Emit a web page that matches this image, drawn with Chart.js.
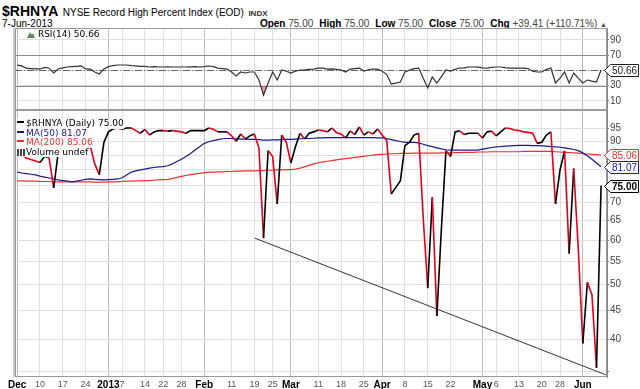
<!DOCTYPE html>
<html>
<head>
<meta charset="utf-8">
<script src="https://cdn.jsdelivr.net/npm/chart.js@4.4.1/dist/chart.umd.min.js"></script>
<style>
  body { margin: 0; background: #fff; }
  #wrap { position: relative; width: 640px; height: 389px; overflow: hidden; font-family: "Liberation Sans", Arial, sans-serif; }
  canvas { position: absolute; left: 0; }
  #rsiChart { top: 28px; }
  #priceChart { top: 110px; }
  .hdr { position: absolute; white-space: nowrap; color: #000; }
  .val { color: #444; }
  .lbl { font-weight: bold; margin-left: 6px; }
  .leg { position: absolute; left: 17px; top: 119px; font-family: "DejaVu Sans", sans-serif; font-size: 9px; line-height: 9.5px; }
  .leg div { display: table; background: rgba(255,255,255,0.92); white-space: nowrap; }
  .dash { display: inline-block; width: 7px; height: 2px; vertical-align: 3px; margin-right: 2px; }
  .bars { display: inline-block; width: 8px; height: 7px; margin-right: 1px; vertical-align: -1px;
          background: linear-gradient(90deg, #444 0 2px, transparent 2px 3px, #444 3px 5px, transparent 5px 6px, #444 6px 8px); }
  .rsilab { position: absolute; left: 27px; top: 29px; font-family: "DejaVu Sans", sans-serif; font-size: 9px; line-height: 10px; background: rgba(255,255,255,0.92); white-space: nowrap; }
</style>
</head>
<body>
<div id="wrap">
  <div class="hdr" style="left:2px; top:2px;"><span style="font-weight:bold; font-size:14px;">$RHNYA</span> <span style="font-size:10px;">NYSE Record High Percent Index (EOD)</span> <span style="font-size:8px; font-weight:bold; color:#333;">INDX</span></div>
  <div class="hdr" style="left:2px; top:17.5px; font-size:10px; line-height:12px;">7-Jun-2013</div>
  <div class="hdr" id="ohlc" style="right:33px; top:17.5px; font-size:10px; line-height:12px;"></div>
  <canvas id="rsiChart" width="640" height="82"></canvas>
  <canvas id="priceChart" width="640" height="279"></canvas>
  <div class="rsilab"><svg width="8" height="7" style="vertical-align:-1px"><polygon points="0,7 3,1 5,4 6,2 8,7" fill="#5a8a5a"/></svg> <span id="rsiTxt"></span></div>
  <div class="leg">
    <div><span class="dash" style="background:#000"></span><span id="lgClose"></span></div>
    <div style="color:#1a1a8c"><span class="dash" style="background:#1a1a8c"></span><span id="lgMa50"></span></div>
    <div style="color:#f03030"><span class="dash" style="background:#f03030"></span><span id="lgMa200"></span></div>
    <div><span class="bars"></span>Volume undef</div>
  </div>
</div>
<script>
// trading-day index positions of the date labels
const tickIdx = [0, 5, 10, 15, 20, 23, 28, 32, 36, 41, 47, 52, 56, 60, 66, 71, 76, 80, 85, 90, 95, 102, 105, 110, 115, 119, 124];
const tickText = ["Dec", "10", "17", "24", "2013", "7", "14", "22", "28", "Feb", "11", "19", "25", "Mar", "11", "18", "25", "Apr", "8", "15", "22", "May", "6", "13", "20", "28", "Jun"];
const monthIdx = [0, 20, 41, 60, 80, 102, 124];

const closeVals = [
  86, 85, 84, 83.5, 83, 82.5, 84.5, 84, 74.3, 86,
  90, 92, 93, 92, 90, 86.8, 88.4, 82, 78.5, 89.5,
  93.5, 94.6, 95, 94.5, 95, 95, 94, 93, 94.5, 92.3,
  93.5, 94, 94, 93.8, 94, 93.8, 93.5, 93, 94, 94,
  94, 94, 95, 94.5, 93.5, 93.5, 93.5, 92, 90, 92.7,
  90.8, 92, 92.7, 87.5, 60.5, 86.6, 84.5, 69.6, 92.3, 89.6,
  82.3, 88, 93, 90.8, 93, 93.5, 94.2, 94, 93.5, 95,
  93.2, 92.7, 91.2, 93.9, 92.5, 95.4, 92.3, 93.5, 92.7, 94.6,
  92.3, 90.4, 72.5, 74.5, 76.5, 88.4, 89.6, 92.3, 93, 66,
  49.3, 71.5, 44, 63, 86.6, 84.5, 93.5, 93.9, 92.5, 93,
  93, 93, 91.2, 93.5, 93.8, 92, 93.5, 95, 94.8, 94.2,
  94, 93.5, 93.3, 93, 89.2, 89.6, 92.3, 93.5, 69.6, 80,
  86.5, 56.8, 80.5, 58, 39.3, 50.5, 48, 35.59, 75
];

const ma50 = [
  79.3, 79.0, 78.8, 78.6, 78.4, 78.0, 77.7, 77.4, 77.1, 76.8,
  76.6, 76.4, 76.2, 76.4, 76.7, 77.0, 77.1, 77.0, 76.9, 76.8,
  76.9, 77.0, 77.1, 77.5, 78.4, 79.3, 79.7, 80.0, 80.3, 80.6,
  80.8, 81.0, 81.1, 81.4, 82.0, 82.8, 83.6, 84.5, 85.6, 86.8,
  88.0, 89.2, 89.8, 90.2, 90.6, 90.9, 91.0, 91.0, 90.9, 90.8,
  90.8, 90.7, 90.7, 90.6, 90.4, 90.4, 90.5, 90.5, 90.6, 90.7,
  90.7, 90.8, 90.9, 91.0, 91.0, 91.1, 91.2, 91.2, 91.3, 91.3,
  91.3, 91.3, 91.3, 91.3, 91.3, 91.3, 91.3, 91.3, 91.3, 91.2,
  91.2, 91.0, 90.6, 90.2, 89.9, 89.6, 89.6, 89.6, 89.4, 88.9,
  88.4, 88.0, 87.6, 87.2, 86.9, 86.8, 86.8, 86.8, 86.8, 86.8,
  86.8, 86.8, 87.1, 87.4, 87.7, 87.9, 88.0, 88.2, 88.3, 88.4,
  88.5, 88.5, 88.5, 88.4, 88.4, 88.3, 88.2, 88.0, 87.9, 87.8,
  87.6, 87.3, 87.0, 86.6, 85.8, 84.8, 83.6, 82.3, 81.07
];

const ma200 = [
  76.5, 76.5, 76.4, 76.4, 76.4, 76.3, 76.3, 76.3, 76.2, 76.2,
  76.2, 76.2, 76.2, 76.2, 76.2, 76.2, 76.2, 76.1, 76.1, 76.1,
  76.2, 76.2, 76.2, 76.3, 76.4, 76.4, 76.5, 76.5, 76.6, 76.6,
  76.7, 76.8, 76.9, 77.0, 77.2, 77.6, 77.9, 78.2, 78.5, 78.7,
  78.9, 79.1, 79.2, 79.3, 79.4, 79.4, 79.5, 79.5, 79.6, 79.6,
  79.7, 79.7, 79.7, 79.8, 79.8, 79.9, 79.9, 80.0, 80.0, 80.1,
  80.1, 80.3, 80.6, 81.0, 81.5, 82.0, 82.4, 82.7, 82.9, 83.1,
  83.4, 83.6, 83.8, 84.0, 84.2, 84.4, 84.6, 84.8, 85.0, 85.2,
  85.3, 85.4, 85.5, 85.5, 85.6, 85.6, 85.6, 85.7, 85.7, 85.7,
  85.7, 85.7, 85.7, 85.8, 85.8, 85.8, 85.9, 85.9, 86.0, 86.0,
  86.0, 86.1, 86.1, 86.1, 86.2, 86.2, 86.2, 86.2, 86.2, 86.2,
  86.2, 86.3, 86.3, 86.3, 86.3, 86.3, 86.3, 86.3, 86.2, 86.1,
  86.0, 85.9, 85.8, 85.7, 85.5, 85.4, 85.3, 85.2, 85.06
];

const rsiVals = [
  57, 56, 53, 52.5, 52, 52, 54, 53, 46.7, 52,
  53.5, 54.6, 55, 55.5, 55.9, 52, 51.9, 48, 45.4, 52,
  55, 56.5, 57.2, 57.2, 57.2, 56.5, 56, 55.5, 55.5, 54.6,
  55, 54.6, 54.6, 54.8, 54.6, 54.6, 54.6, 54.6, 54.8, 55,
  54.6, 55, 55.9, 55, 53.2, 52.5, 51.9, 48, 42.8, 48,
  46.7, 48, 48, 37.5, 17.8, 33.6, 48, 37.5, 50.6, 49,
  46.7, 49, 50.6, 50.5, 51.5, 51.9, 53, 53, 51.9, 52,
  51.5, 50.6, 48, 51.9, 52.5, 53.2, 49.3, 51, 51.9, 51.9,
  49, 45, 32.3, 33.5, 34.9, 48, 50.5, 52.5, 53.2, 40,
  27, 41.4, 33.6, 42, 50.6, 49.3, 51.5, 53.2, 53.5, 54.6,
  54.6, 54.3, 53.5, 53.2, 54, 54.6, 54.6, 53.8, 53.2, 53.2,
  53.2, 53, 52.5, 49, 48, 48, 51.5, 53.2, 33.6, 40,
  48, 33.6, 46.7, 40, 33.6, 37.5, 36, 34.9, 50.66
];

// support line drawn on the chart
const trendIdx = [52.1, 129.3];
const trendVal = [60.5, 34.5];

const priceTicks = [35, 40, 45, 50, 55, 60, 65, 70, 75, 80, 85, 90, 95];
const rsiTicks = [10, 30, 50, 70, 90];

const last = a => a[a.length - 1];
const pts = a => a.map((v, i) => ({ x: i, y: v }));
const isMonth = c => !!(c.tick && monthIdx.includes(c.tick.value));
const RED = "#e3001b", NAVY = "#1a1a8c", MARED = "#f03030";

document.getElementById("ohlc").innerHTML =
  '<b>Open</b> <span class="val">75.00</span><span class="lbl">High</span> <span class="val">75.00</span>' +
  '<span class="lbl">Low</span> <span class="val">75.00</span><span class="lbl">Close</span> <span class="val">75.00</span>' +
  '<span class="lbl">Chg</span> <span class="val">+39.41 (+110.71%)</span> <span style="font-size:7px;color:#444">&#9650;</span>';
document.getElementById("rsiTxt").textContent = "RSI(14) " + last(rsiVals).toFixed(2);
document.getElementById("lgClose").textContent = "$RHNYA (Daily) " + last(closeVals).toFixed(2);
document.getElementById("lgMa50").textContent = "MA(50) " + last(ma50).toFixed(2);
document.getElementById("lgMa200").textContent = "MA(200) " + last(ma200).toFixed(2);

function xAxis(showLabels) {
  return {
    type: "linear", min: -0.48, max: 129.3,
    afterBuildTicks: s => { s.ticks = tickIdx.map(v => ({ value: v })); },
    afterFit: s => { s.height = showLabels ? 12 : 0; },
    grid: { color: c => isMonth(c) ? "#bdbdbd" : "#e0e0e0", drawTicks: false },
    border: { display: false },
    ticks: {
      display: showLabels, autoSkip: false, maxRotation: 0, minRotation: 0, padding: 2,
      callback: v => { const k = tickIdx.indexOf(v); return k < 0 ? "" : tickText[k]; },
      font: c => ({ family: "Liberation Sans", size: isMonth(c) ? 10 : 9, weight: isMonth(c) ? "bold" : "normal" }),
      color: c => isMonth(c) ? "#000" : "#555"
    }
  };
}

// right value axis with fixed width and no extra padding
function fitY(s) {
  s.width = 33;
  s.paddingTop = 0;
  s.paddingBottom = 0;
}

const framePlugin = {
  id: "frame",
  afterDatasetsDraw(chart) {
    const { ctx, chartArea: c } = chart;
    ctx.save();
    ctx.strokeStyle = "#9a9a9a";
    ctx.lineWidth = 1;
    ctx.strokeRect(c.left + 0.5, c.top + 0.5, c.width - 1, c.height - 1);
    ctx.fillStyle = "#c8c8c8";
    ctx.fillRect(c.left - 2, c.top, 2, c.height);
    ctx.restore();
  }
};

const tagPlugin = {
  id: "tags",
  afterDraw(chart, args, opts) {
    const ctx = chart.ctx, s = chart.scales.y, ca = chart.chartArea;
    (opts.items || []).forEach(t => {
      const y = Math.round(s.getPixelForValue(t.value)) + 0.5;
      const x0 = ca.right - 2.5, x1 = ca.right + 3.5, x2 = 638.5, h = 6;
      ctx.save();
      ctx.beginPath();
      ctx.moveTo(x0, y); ctx.lineTo(x1, y - h); ctx.lineTo(x2, y - h);
      ctx.lineTo(x2, y + h); ctx.lineTo(x1, y + h); ctx.closePath();
      ctx.fillStyle = "#fff"; ctx.fill();
      ctx.strokeStyle = t.color; ctx.lineWidth = 1; ctx.stroke();
      ctx.fillStyle = t.color;
      ctx.font = (t.bold ? "bold " : "") + "10px 'Liberation Sans'";
      ctx.textBaseline = "middle"; ctx.textAlign = "left";
      ctx.fillText(t.text, x1 + 1.5, y + 0.5);
      ctx.restore();
    });
  }
};

const rsiLevels = {
  id: "rsiLevels",
  beforeDatasetsDraw(chart) {
    const { ctx, chartArea: c } = chart, s = chart.scales.y;
    ctx.save();
    ctx.lineWidth = 1;
    [70, 30].forEach(v => {
      const y = Math.round(s.getPixelForValue(v)) + 0.5;
      ctx.strokeStyle = "#8c8c8c";
      ctx.beginPath(); ctx.moveTo(c.left, y); ctx.lineTo(c.right, y); ctx.stroke();
    });
    const y5 = Math.round(s.getPixelForValue(50)) + 0.5;
    ctx.strokeStyle = "#666";
    ctx.setLineDash([7, 2, 1, 2]);
    ctx.beginPath(); ctx.moveTo(c.left, y5); ctx.lineTo(c.right, y5); ctx.stroke();
    ctx.restore();
  }
};

Chart.defaults.font.family = "Liberation Sans";

// RSI panel
new Chart(document.getElementById("rsiChart").getContext("2d"), {
  type: "line",
  data: {
    datasets: [{
      data: pts(rsiVals),
      borderColor: "#333",
      borderWidth: 1.2,
      pointRadius: 0,
      tension: 0,
      fill: { target: { value: 30 }, above: "rgba(0,0,0,0)", below: "rgba(225,60,90,0.55)" }
    }]
  },
  options: {
    responsive: false, animation: false, devicePixelRatio: 1,
    layout: { padding: { left: 15, right: 0, top: 0, bottom: 0 } },
    plugins: {
      legend: { display: false }, tooltip: { enabled: false },
      tags: { items: [{ value: last(rsiVals), text: last(rsiVals).toFixed(2), color: "#222" }] }
    },
    scales: {
      x: xAxis(false),
      y: {
        position: "right", min: -1.8, max: 105.7,
        afterBuildTicks: s => { s.ticks = rsiTicks.map(v => ({ value: v })); },
        afterFit: fitY,
        grid: { color: "#e0e0e0", tickLength: 2, tickColor: "#888" },
        border: { color: "#888" },
        ticks: { padding: 1, font: { size: 10 }, color: "#444" }
      }
    }
  },
  plugins: [rsiLevels, framePlugin, tagPlugin]
});

// Price panel
new Chart(document.getElementById("priceChart").getContext("2d"), {
  type: "line",
  data: {
    datasets: [
      {
        data: pts(closeVals),
        borderWidth: 1.6,
        borderColor: "#000",
        segment: { borderColor: c => c.p1.parsed.y < c.p0.parsed.y ? RED : "#000" },
        pointRadius: 0, tension: 0
      },
      {
        data: trendIdx.map((x, i) => ({ x: x, y: trendVal[i] })),
        borderColor: "#000", borderWidth: 0.8, pointRadius: 0
      },
      { data: pts(ma50), borderColor: NAVY, borderWidth: 1.2, pointRadius: 0, tension: 0 },
      { data: pts(ma200), borderColor: MARED, borderWidth: 1.2, pointRadius: 0, tension: 0 }
    ]
  },
  options: {
    responsive: false, animation: false, devicePixelRatio: 1,
    layout: { padding: { left: 15, right: 0, top: 0, bottom: 0 } },
    plugins: {
      legend: { display: false }, tooltip: { enabled: false },
      tags: {
        items: [
          { value: last(ma200), text: last(ma200).toFixed(2), color: MARED },
          { value: last(ma50), text: last(ma50).toFixed(2), color: NAVY },
          { value: last(closeVals), text: last(closeVals).toFixed(2), color: "#000", bold: true }
        ]
      }
    },
    scales: {
      x: xAxis(true),
      y: {
        type: "logarithmic", position: "right", min: 34.26, max: 102.27,
        afterBuildTicks: s => { s.ticks = priceTicks.map(v => ({ value: v })); },
        afterFit: fitY,
        grid: { color: "#e0e0e0", tickLength: 2, tickColor: "#888" },
        border: { color: "#888" },
        ticks: { padding: 1, font: { size: 10 }, color: "#444", callback: v => v === 35 ? "" : String(v) }
      }
    }
  },
  plugins: [framePlugin, tagPlugin]
});
</script>
</body>
</html>
